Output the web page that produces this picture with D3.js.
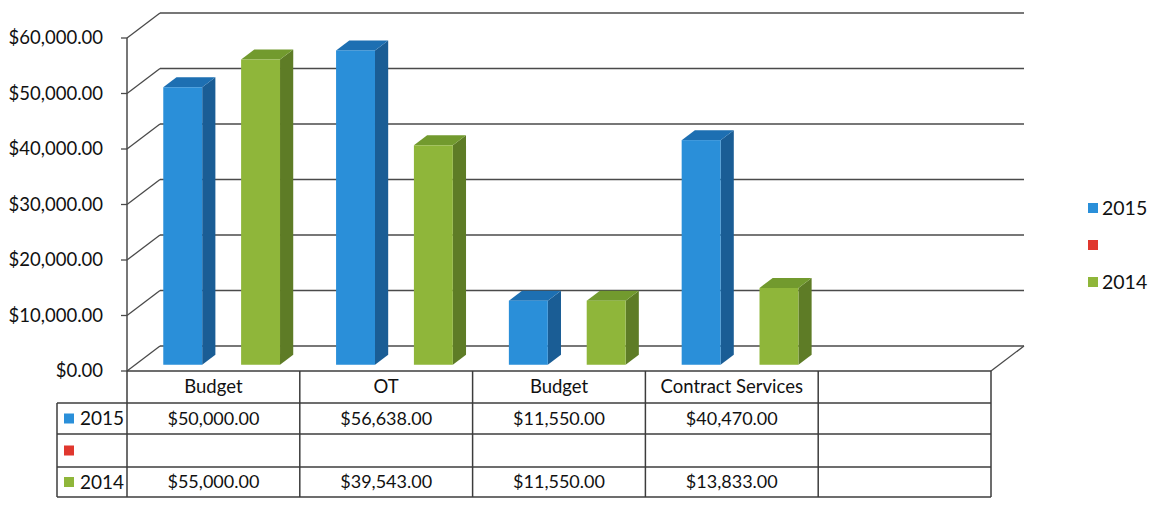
<!DOCTYPE html>
<html>
<head>
<meta charset="utf-8">
<script src="https://cdn.jsdelivr.net/npm/d3@7"></script>
<style>
  html, body { margin: 0; padding: 0; background: #fff; }
  svg { display: block; font-family: Lato, "Liberation Sans", sans-serif; }
</style>
</head>
<body>
<svg id="chart" width="1158" height="508"></svg>
<script>
// Categories along the floor (the last column is empty)
const categories = ["Budget", "OT", "Budget", "Contract Services", ""];
// Series names as listed in the legend; the middle series has no name and no values
const seriesNames = ["2015", "", "2014"];
const seriesColors = ["#2a8fd9", "#e0372e", "#8fb63a"];
const values2015 = [50000, 56638, 11550, 40470, null];
const valuesBlank = [null, null, null, null, null];
const values2014 = [55000, 39543, 11550, 13833, null];
const yTicks = [0, 10000, 20000, 30000, 40000, 50000, 60000];

const seriesValues = [values2015, valuesBlank, values2014];
const sideColors = ["#1a5d95", "#9a2420", "#5e7c26"];
const topColors = ["#1d6fb2", "#b82a24", "#729a2e"];

const svg = d3.select("#chart");
const fmt = d3.format("$,.2f");
const textColor = "#111";

// Front plane of the 3-D plot box
const x = d3.scaleBand().domain(d3.range(categories.length)).range([127, 991]);
const y = d3.scaleLinear().domain([0, 60000]).range([371, 38]);
const slot = d3.scaleBand().domain(d3.range(seriesNames.length))
  .range([0, x.bandwidth()]).paddingInner(0).paddingOuter(0.72);

// Depth of the box and the depth band occupied by the columns
const DX = 33, DY = -25;
const f0 = 0.25, f1 = 0.65;

const gridColor = "#4a4a4a";

// Back wall gridlines and left-side edges
const grid = svg.append("g");
yTicks.forEach(t => {
  const yf = y(t);
  grid.append("line")
    .attr("x1", x.range()[0] + DX).attr("x2", x.range()[1] + DX)
    .attr("y1", yf + DY).attr("y2", yf + DY)
    .attr("stroke", gridColor).attr("stroke-width", 1.3);
  grid.append("line")
    .attr("x1", x.range()[0]).attr("y1", yf)
    .attr("x2", x.range()[0] + DX).attr("y2", yf + DY)
    .attr("stroke", gridColor).attr("stroke-width", 1.3);
});
// Floor right edge
grid.append("line")
  .attr("x1", x.range()[1]).attr("y1", y(0))
  .attr("x2", x.range()[1] + DX).attr("y2", y(0) + DY)
  .attr("stroke", gridColor).attr("stroke-width", 1.3);

// Value axis
const axis = svg.append("g");
axis.append("line")
  .attr("x1", x.range()[0]).attr("x2", x.range()[0])
  .attr("y1", y(60000)).attr("y2", y(0))
  .attr("stroke", gridColor).attr("stroke-width", 1.5);
yTicks.forEach(t => {
  axis.append("line")
    .attr("x1", x.range()[0] - 6).attr("x2", x.range()[0])
    .attr("y1", y(t)).attr("y2", y(t))
    .attr("stroke", gridColor).attr("stroke-width", 1.3);
  axis.append("text")
    .attr("x", 103).attr("y", y(t))
    .attr("dy", "0.35em")
    .attr("text-anchor", "end")
    .attr("font-size", 18.5)
    .attr("fill", textColor)
    .text(fmt(t));
});

// 3-D columns
const bars = svg.append("g");
categories.forEach((c, i) => {
  seriesValues.forEach((vals, s) => {
    const v = vals[i];
    if (v == null) return;
    const xl = x(i) + slot(s) + f0 * DX;
    const xr = xl + slot.bandwidth();
    const yt = y(v) + f0 * DY;
    const yb = y(0) + f0 * DY;
    const ddx = (f1 - f0) * DX, ddy = (f1 - f0) * DY;
    bars.append("polygon")
      .attr("points", [[xr, yt], [xr + ddx, yt + ddy], [xr + ddx, yb + ddy], [xr, yb]].join(" "))
      .attr("fill", sideColors[s]);
    bars.append("polygon")
      .attr("points", [[xl, yt], [xl + ddx, yt + ddy], [xr + ddx, yt + ddy], [xr, yt]].join(" "))
      .attr("fill", topColors[s]);
    bars.append("rect")
      .attr("x", xl).attr("y", yt)
      .attr("width", xr - xl).attr("height", yb - yt)
      .attr("fill", seriesColors[s]);
  });
});

// Data table under the plot
const table = svg.append("g");
const rowY = [371, 403, 434, 467, 497];
const legendColX = 57;
const lineAttr = sel => sel.attr("stroke", "#3c3c3c").attr("stroke-width", 1.5).attr("fill", "none");

// Header row (category names)
table.append("line").call(lineAttr)
  .attr("x1", x.range()[0]).attr("x2", x.range()[1]).attr("y1", rowY[0]).attr("y2", rowY[0]);
// Row separators
rowY.slice(1).forEach(ry => {
  table.append("line").call(lineAttr)
    .attr("x1", legendColX).attr("x2", x.range()[1]).attr("y1", ry).attr("y2", ry);
});
// Column separators
table.append("line").call(lineAttr)
  .attr("x1", legendColX).attr("x2", legendColX).attr("y1", rowY[1]).attr("y2", rowY[4]);
d3.range(categories.length + 1).forEach(i => {
  const cx = i < categories.length ? x(i) : x.range()[1];
  table.append("line").call(lineAttr)
    .attr("x1", cx).attr("x2", cx).attr("y1", rowY[0]).attr("y2", rowY[4]);
});

categories.forEach((c, i) => {
  table.append("text")
    .attr("x", x(i) + x.bandwidth() / 2).attr("y", (rowY[0] + rowY[1]) / 2)
    .attr("dy", "0.35em").attr("text-anchor", "middle")
    .attr("font-size", 18.5).attr("fill", textColor)
    .text(c);
});

seriesValues.forEach((vals, s) => {
  const cy = (rowY[s + 1] + rowY[s + 2]) / 2;
  table.append("rect")
    .attr("x", 64).attr("y", cy - 5).attr("width", 10).attr("height", 10)
    .attr("fill", seriesColors[s]);
  table.append("text")
    .attr("x", 80).attr("y", cy).attr("dy", "0.35em")
    .attr("font-size", 19).attr("fill", textColor)
    .text(seriesNames[s]);
  vals.forEach((v, i) => {
    if (v == null) return;
    table.append("text")
      .attr("x", x(i) + x.bandwidth() / 2).attr("y", cy)
      .attr("dy", "0.35em").attr("text-anchor", "middle")
      .attr("font-size", 18).attr("fill", textColor)
      .text(fmt(v));
  });
});

// Legend
const legend = svg.append("g");
const legendY = [208, 245, 282];
seriesNames.forEach((n, s) => {
  legend.append("rect")
    .attr("x", 1088).attr("y", legendY[s] - 5).attr("width", 10).attr("height", 10)
    .attr("fill", seriesColors[s]);
  legend.append("text")
    .attr("x", 1102).attr("y", legendY[s]).attr("dy", "0.35em")
    .attr("font-size", 19.5).attr("fill", textColor)
    .text(n);
});
</script>
</body>
</html>
